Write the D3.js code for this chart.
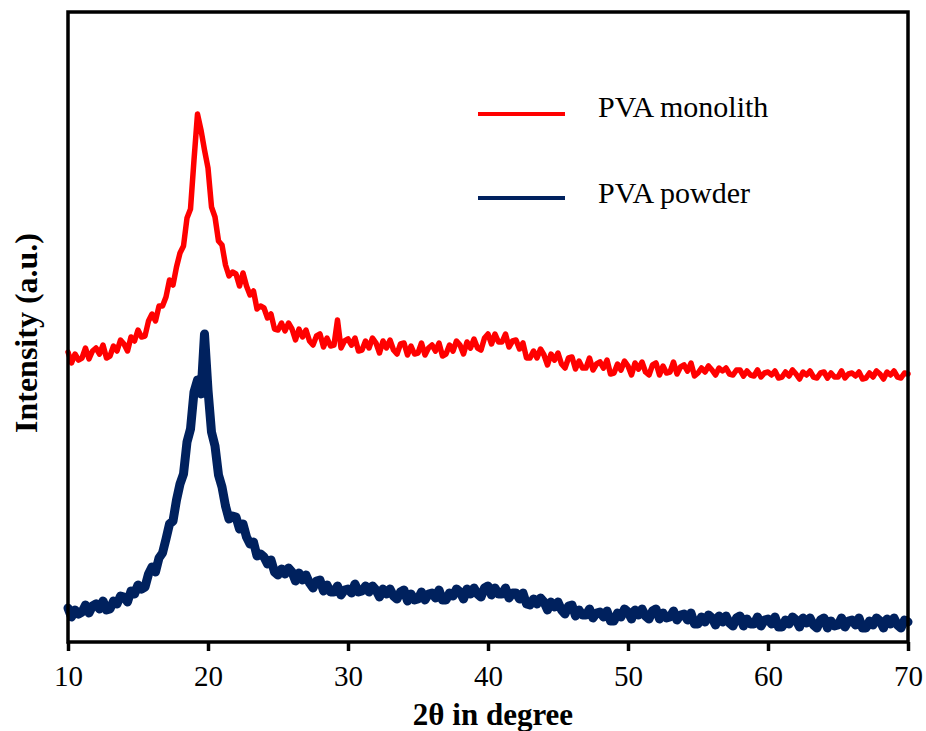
<!DOCTYPE html>
<html>
<head>
<meta charset="utf-8">
<script src="https://cdn.jsdelivr.net/npm/d3@7"></script>
<style>
    body { margin: 0; background: #fff; }
    svg text { font-family: "Times New Roman", "Liberation Serif", Tinos, serif; fill: #000; }
</style>
</head>
<body>
<svg id="xrdChart"></svg>
<script>
// 2-theta sampling (degrees), 0.25 deg step from 10 to 70
var thetaStart = 10, thetaStep = 0.25;

// intensity (a.u.), one row per degree
var monolith = [
    290, 279, 288, 282,  284, 294, 283, 291,  294, 288, 297, 284,  286, 296, 291, 302,
    298, 291, 305, 301,  312, 305, 306, 321,  328, 321, 336, 336,  345, 362, 357, 375,
    389, 396, 424, 433,  482, 528, 512, 492,  474, 435, 425, 401,  397, 377, 366, 370,
    368, 356, 369, 356,  347, 351, 333, 336,  334, 324, 328, 313,  312, 319, 311, 319,
    313, 302, 313, 305,  312, 301, 297, 306,  308, 295, 304, 296,  297, 322, 294, 301,
    303, 297, 304, 291,  292, 301, 294, 304,  299, 289, 301, 294,  302, 292, 288, 298,
    299, 287, 296, 288,  289, 299, 287, 294,  297, 291, 299, 286,  288, 297, 291, 301,
    297, 288, 300, 294,  303, 294, 292, 304,  308, 298, 308, 300,  300, 308, 295, 301,
    302, 293, 299, 284,  284, 291, 284, 293,  287, 277, 288, 282,  289, 278, 274, 284,
    285, 273, 281, 274,  274, 284, 272, 278,  280, 274, 282, 268,  269, 278, 272, 281,
    276, 267, 279, 273,  280, 270, 267, 277,  279, 267, 276, 269,  270, 280, 268, 275,
    277, 271, 279, 266,  269, 274, 270, 276,  272, 267, 274, 271,  274, 268, 267, 272,
    272, 266, 271, 267,  266, 272, 265, 269,  270, 267, 271, 264,  265, 270, 266, 272,
    268, 263, 270, 267,  271, 265, 264, 269,  270, 264, 269, 265,  265, 271, 264, 268,
    269, 266, 270, 263,  264, 269, 265, 271,  268, 263, 270, 267,  271, 265, 264, 269,
    268
];

var powder = [
    34, 25, 32, 28,  30, 37, 29, 36,  38, 33, 41, 32,  33, 41, 38, 46,
    45, 40, 51, 48,  57, 53, 55, 68,  75, 70, 84, 89,  103, 118, 121, 142,
    158, 168, 200, 213,  250, 262, 248, 308,  252, 210, 196, 167,  155, 136, 123, 126,
    125, 113, 118, 105,  98, 100, 86, 88,  85, 78, 82, 70,  67, 73, 68, 74,
    70, 61, 69, 62,  67, 59, 54, 61,  62, 51, 57, 50,  50, 56, 47, 52,
    53, 49, 58, 50,  51, 56, 50, 56,  52, 45, 53, 48,  53, 46, 43, 50,
    52, 41, 48, 42,  43, 50, 42, 48,  49, 44, 52, 42,  42, 49, 46, 53,
    50, 43, 53, 48,  54, 48, 45, 54,  56, 47, 54, 48,  48, 54, 44, 49,
    49, 43, 49, 38,  37, 43, 38, 44,  40, 32, 40, 35,  40, 32, 28, 36,
    37, 26, 32, 27,  27, 33, 24, 29,  30, 25, 31, 21,  21, 29, 25, 33,
    30, 23, 32, 27,  33, 26, 23, 31,  33, 23, 29, 24,  25, 31, 22, 27,
    28, 22, 29, 18,  18, 25, 20, 27,  24, 17, 26, 20,  26, 19, 16, 24,
    26, 16, 23, 18,  18, 25, 16, 22,  23, 18, 25, 15,  15, 22, 18, 25,
    22, 15, 24, 19,  24, 17, 14, 22,  24, 14, 21, 16,  17, 24, 15, 21,
    22, 17, 24, 14,  14, 21, 17, 24,  21, 14, 23, 18,  24, 17, 14, 22,
    20
];

var seriesNames = ["PVA monolith", "PVA powder"];
var seriesColors = ["#ff0000", "#00215e"];
var xTicks = [10, 20, 30, 40, 50, 60, 70];

// set the dimensions and margins of the graph
var width = 840;
var height = 630;
var margin = { "left": 68, "right": 18, "top": 12, "bottom": 89 };
var serifFont = "'Times New Roman', 'Liberation Serif', Tinos, serif";

var svg = d3.select("#xrdChart")
    .attr("width", width + margin.left + margin.right)
    .attr("height", height + margin.top + margin.bottom);

var g = svg.append("g")
    .attr("transform", "translate(" + margin.left + "," + margin.top + ")");

var x = d3.scaleLinear().domain([10, 70]).range([0, width]);
var y = d3.scaleLinear().domain([0, 630]).range([height, 0]);

var toPoints = arr => arr.map((v, i) => [thetaStart + i * thetaStep, v]);
var data = [toPoints(monolith), toPoints(powder)];

var line = d3.line()
    .x(d => x(d[0]))
    .y(d => y(d[1]));

// powder first so monolith sits on top
g.append("path")
    .datum(data[1])
    .attr("d", line)
    .attr("fill", "none")
    .attr("stroke", seriesColors[1])
    .attr("stroke-width", 9)
    .attr("stroke-linejoin", "round")
    .attr("stroke-linecap", "round");

g.append("path")
    .datum(data[0])
    .attr("d", line)
    .attr("fill", "none")
    .attr("stroke", seriesColors[0])
    .attr("stroke-width", 5.5)
    .attr("stroke-linejoin", "round")
    .attr("stroke-linecap", "round");

// frame
g.append("rect")
    .attr("width", width)
    .attr("height", height)
    .attr("fill", "none")
    .attr("stroke", "#000")
    .attr("stroke-width", 3.5);

// x axis
var gx = g.append("g")
    .attr("transform", "translate(0," + height + ")")
    .call(d3.axisBottom(x).tickValues(xTicks).tickSize(9).tickSizeOuter(0).tickPadding(14));
gx.attr("font-family", serifFont).attr("font-size", 29);
gx.select(".domain").remove();
gx.selectAll(".tick line").attr("stroke", "#000").attr("stroke-width", 3.5);
gx.selectAll(".tick text")
    .style("font-family", serifFont)
    .style("font-size", "29px")
    .attr("fill", "#000");

// axis titles
svg.append("text")
    .attr("x", 493)
    .attr("y", 725)
    .attr("text-anchor", "middle")
    .style("font-family", serifFont)
    .style("font-size", "31px")
    .style("font-weight", "bold")
    .text("2θ in degree");

svg.append("text")
    .attr("transform", "translate(37,333) rotate(-90)")
    .attr("text-anchor", "middle")
    .style("font-family", serifFont)
    .style("font-size", "32px")
    .style("font-weight", "bold")
    .text("Intensity (a.u.)");

// legend
var legendY = [114, 198];
var legendBase = [117, 203];
seriesNames.forEach((name, i) => {
    svg.append("line")
        .attr("x1", 478).attr("x2", 565)
        .attr("y1", legendY[i]).attr("y2", legendY[i])
        .attr("stroke", seriesColors[i])
        .attr("stroke-width", 4);
    svg.append("text")
        .attr("x", 598)
        .attr("y", legendBase[i])
        .style("font-family", serifFont)
        .style("font-size", "30px")
        .text(name);
});
</script>
</body>
</html>
